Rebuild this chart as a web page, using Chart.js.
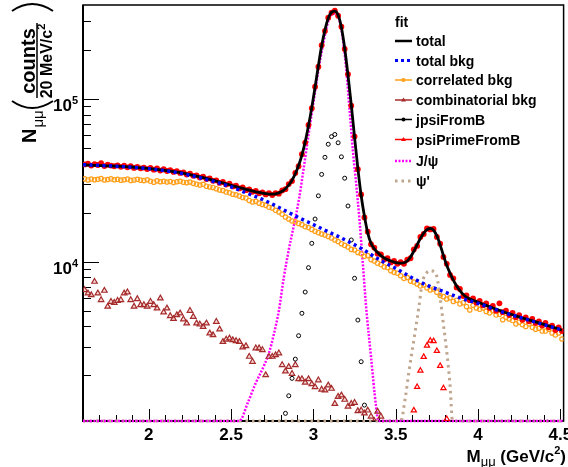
<!DOCTYPE html>
<html>
<head>
<meta charset="utf-8">
<script src="https://cdn.jsdelivr.net/npm/chart.js@4.4.1/dist/chart.umd.min.js"></script>
<style>
  html, body { margin: 0; padding: 0; background: #fff; }
  #wrap { width: 568px; height: 467px; }
</style>
</head>
<body>
<div id="wrap"><canvas id="massChart"></canvas></div>
<script>
// Dimuon invariant mass fit, 20 MeV bins, log y

const binCenters = [
  1.61, 1.63, 1.65, 1.67, 1.69, 1.71, 1.73, 1.75, 1.77, 1.79,
  1.81, 1.83, 1.85, 1.87, 1.89, 1.91, 1.93, 1.95, 1.97, 1.99,
  2.01, 2.03, 2.05, 2.07, 2.09, 2.11, 2.13, 2.15, 2.17, 2.19,
  2.21, 2.23, 2.25, 2.27, 2.29, 2.31, 2.33, 2.35, 2.37, 2.39,
  2.41, 2.43, 2.45, 2.47, 2.49, 2.51, 2.53, 2.55, 2.57, 2.59,
  2.61, 2.63, 2.65, 2.67, 2.69, 2.71, 2.73, 2.75, 2.77, 2.79,
  2.81, 2.83, 2.85, 2.87, 2.89, 2.91, 2.93, 2.95, 2.97, 2.99,
  3.01, 3.03, 3.05, 3.07, 3.09, 3.11, 3.13, 3.15, 3.17, 3.19,
  3.21, 3.23, 3.25, 3.27, 3.29, 3.31, 3.33, 3.35, 3.37, 3.39,
  3.41, 3.43, 3.45, 3.47, 3.49, 3.51, 3.53, 3.55, 3.57, 3.59,
  3.61, 3.63, 3.65, 3.67, 3.69, 3.71, 3.73, 3.75, 3.77, 3.79,
  3.81, 3.83, 3.85, 3.87, 3.89, 3.91, 3.93, 3.95, 3.97, 3.99,
  4.01, 4.03, 4.05, 4.07, 4.09, 4.11, 4.13, 4.15, 4.17, 4.19,
  4.21, 4.23, 4.25, 4.27, 4.29, 4.31, 4.33, 4.35, 4.37, 4.39,
  4.41, 4.43, 4.45, 4.47, 4.49, 4.51
];

// measured counts (red points)
const dataCounts = [
  39600, 40100, 39000, 39800, 39300, 40300, 38700, 39500, 39000, 38600,
  39100, 38300, 38900, 38000, 38600, 37700, 38300, 37500, 37900, 37100,
  37700, 36800, 37400, 36300, 37000, 36100, 36500, 35600, 36000, 35100,
  35400, 34300, 34800, 33700, 33900, 32900, 33300, 32200, 32500, 31400,
  31600, 30500, 30900, 29800, 30200, 29000, 29300, 28200, 28600, 27500,
  27800, 26900, 27200, 26300, 26700, 25900, 26400, 25700, 26400, 26200,
  27400, 27900, 30000, 31300, 35100, 38600, 45800, 54000, 69200, 87800,
  119000, 158000, 214000, 262000, 316000, 339000, 349000, 325000, 278000, 203000,
  142000, 91000, 58800, 37000, 25900, 18700, 15300, 12800, 12200, 11200,
  11100, 10300, 10500, 9900, 10100, 9700, 9950, 9700, 10300, 10500,
  11900, 12500, 14200, 14800, 16000, 15800, 15900, 14200, 12900, 10700,
  9700, 8300, 7900, 6950, 6800, 6150, 6200, 5800, 5950, 5600,
  5750, 5400, 5550, 5200, 5350, 5000, 5550, 4900, 5000, 4700,
  4850, 4550, 4700, 4400, 4550, 4300, 4450, 4200, 4300, 4050,
  4200, 3950, 4050, 3800, 3950, 3750
];

// total fit function sampled at bin centres
const totalFit = [
  39300, 39250, 39200, 39100, 39000, 38950, 38900, 38800, 38750, 38700,
  38600, 38500, 38400, 38300, 38200, 38050, 37900, 37750, 37600, 37450,
  37300, 37100, 36900, 36700, 36500, 36300, 36050, 35800, 35550, 35300,
  35000, 34650, 34300, 33950, 33600, 33250, 32900, 32500, 32100, 31700,
  31300, 30900, 30500, 30100, 29700, 29300, 28900, 28550, 28200, 27850,
  27500, 27200, 26900, 26650, 26400, 26200, 26050, 26000, 26150, 26500,
  27100, 28100, 29600, 31700, 34700, 39000, 45200, 54500, 68500, 88500,
  118000, 160000, 212000, 265000, 313000, 341000, 347000, 328000, 275000, 205000,
  140000, 92000, 58000, 37500, 25500, 19000, 15000, 13000, 12000, 11400,
  10900, 10550, 10300, 10100, 9950, 9850, 9800, 9850, 10100, 10700,
  11600, 12700, 13900, 15000, 15750, 16000, 15600, 14400, 12700, 10900,
  9500, 8500, 7700, 7100, 6650, 6300, 6050, 5900, 5800, 5700,
  5600, 5490, 5390, 5300, 5200, 5110, 5020, 4940, 4860, 4790,
  4720, 4650, 4580, 4510, 4450, 4390, 4330, 4270, 4210, 4150,
  4090, 4030, 3980, 3920, 3860, 3800
];

const correlatedBkg = [
  32300, 31800, 32200, 31900, 32100, 32400, 31800, 32000, 32300, 31900,
  32100, 31700, 31900, 32200, 31600, 31800, 32100, 31700, 31500, 31900,
  31200, 30800, 31400, 31000, 31200, 30900, 31100, 30700, 31000, 31200,
  30800, 30600, 30900, 30300, 29900, 29600, 29900, 29100, 28800, 28600,
  28100, 27600, 27400, 26800, 26500, 26000, 25800, 25300, 24800, 24600,
  23800, 23300, 23500, 22900, 22500, 22200, 21600, 21400, 20700, 20200,
  19600, 18800, 18300, 17800, 17600, 17200, 16900, 16400, 16200, 15800,
  15400, 15100, 14800, 14600, 14300, 14000, 13600, 13300, 12900, 12600,
  12300, 11900, 11800, 11400, 11200, 10800, 10900, 10300, 10100, 9800,
  9600, 9300, 9200, 8800, 8600, 8500, 8200, 7900, 8000, 7600,
  7500, 7300, 7100, 7200, 6900, 6700, 6800, 6500, 6200, 6100,
  5900, 6000, 5700, 5800, 5500, 5600, 5300, 5050, 5400, 5200,
  5100, 5200, 4950, 4850, 5000, 4700, 4750, 4400, 4550, 4450,
  4350, 4150, 4250, 4100, 4000, 4150, 3950, 3850, 3900, 3750,
  3750, 3850, 3650, 3550, 3650, 3350
];

// first 91 bins, the rest falls below the axis
const combinatorialBkg = [
  6700, 6390, 6240, 7540, 6390, 5820, 6640, 5300, 5680, 5600,
  5760, 5820, 6390, 6490, 5820, 5300, 5900, 5420, 5420, 5300,
  5680, 5420, 5170, 5960, 4890, 5170, 4640, 4460, 4700, 4820,
  4430, 4180, 5000, 4590, 4180, 4120, 3980, 4180, 3630, 3540,
  4280, 3840, 3220, 3330, 3380, 3300, 3260, 3220, 2980, 3030,
  2610, 2430, 2940, 2940, 2870, 2010, 2610, 2610, 2670, 2740,
  2320, 2120, 2260, 2050, 2320, 1900, 1900, 1810, 1900, 1770,
  1700, 1870, 1640, 1620, 1740, 1660, 1340, 1480, 1510, 1420,
  1290, 1340, 1360, 1210, 1220, 1170, 1220, 1120, 1050, 1200,
  1120
];

const totalBkgX = [1.60, 1.80, 2.00, 2.20, 2.40, 2.50, 2.60, 2.70, 2.80, 2.90, 3.00, 3.10, 3.20,
  3.30, 3.40, 3.50, 3.60, 3.70, 3.80, 3.90, 4.00, 4.10, 4.20, 4.30, 4.40, 4.52];
const totalBkgY = [39500, 38600, 37300, 34800, 31000, 28800, 26300, 23900, 21300, 18900, 16900, 15100, 13500,
  11900, 10300, 9100, 7950, 7100, 6500, 5950, 5550, 5100, 4720, 4400, 4100, 3780];

const jpsiX = [1.60, 2.55, 2.60, 2.65, 2.70, 2.73, 2.76, 2.79, 2.82, 2.85, 2.88, 2.91, 2.94, 2.97,
  3.00, 3.03, 3.06, 3.09, 3.12, 3.14, 3.16, 3.18, 3.20, 3.22, 3.24, 3.26, 3.28, 3.30, 3.32,
  3.35, 3.38, 3.395, 4.52];
const jpsiY = [1050, 1050, 1350, 1800, 2300, 2750, 3600, 5000, 8000, 11800, 16500, 23500, 37000, 60000,
  95000, 150000, 220000, 300000, 335000, 330000, 300000, 230000, 150000, 85000, 48000, 30000, 18000, 9800, 5300,
  2600, 1300, 1050, 1050];

const psiPrimeX = [1.60, 3.53, 3.56, 3.58, 3.61, 3.64, 3.66, 3.69, 3.71, 3.73, 3.75, 3.77, 3.79, 3.81, 3.83, 3.845, 4.52];
const psiPrimeY = [1050, 1050, 1500, 2100, 3300, 5200, 7300, 8600, 8800, 8700, 8100, 6000, 4100, 2800, 1750, 1050, 1050];

const jpsiFromBX = [2.83, 2.85, 2.87, 2.89, 2.91, 2.93, 2.95, 2.97, 2.99, 3.01, 3.03, 3.05, 3.07,
  3.09, 3.11, 3.13, 3.15, 3.17, 3.19, 3.21, 3.23, 3.25, 3.27, 3.29, 3.31];
const jpsiFromBY = [1170, 1500, 1920, 2520, 3510, 4820, 6510, 9190, 12970, 18300, 25400, 34400, 43800,
  52700, 58700, 60500, 53800, 44100, 32600, 22000, 13600, 7910, 4380, 2430, 1315];

const psiPrimeFromBX = [3.61, 3.63, 3.65, 3.67, 3.69, 3.71, 3.73, 3.75, 3.77, 3.79, 3.81];
const psiPrimeFromBY = [1220, 1700, 2140, 2600, 3050, 3270, 3250, 2830, 2290, 1670, 1080];

const xTickValues = [2, 2.5, 3, 3.5, 4, 4.5];
const xTickLabels = ['2', '2.5', '3', '3.5', '4', '4.5'];
const xMinorValues = [1.7, 1.8, 1.9, 2.1, 2.2, 2.3, 2.4, 2.6, 2.7, 2.8, 2.9, 3.1, 3.2, 3.3, 3.4,
  3.6, 3.7, 3.8, 3.9, 4.1, 4.2, 4.3, 4.4];
const yTickValues = [1e4, 1e5];
const yTickExponents = ['4', '5'];
const yMinorValues = [2e3, 3e3, 4e3, 5e3, 6e3, 7e3, 8e3, 9e3, 2e4, 3e4, 4e4, 5e4, 6e4, 7e4, 8e4, 9e4, 2e5, 3e5];

const ORANGE = '#ff9f1a';
const BROWN = '#a52a2a';
const MAGENTA = '#ff00ff';
const TAN = '#bfa68f';
const FONT = '"Liberation Sans", Arial, sans-serif';

function pts(xs, ys) {
    return ys.map((y, i) => ({ x: xs[i], y: y }));
}

const legendEntries = [
    { label: 'total', color: '#000', width: 2.5 },
    { label: 'total bkg', color: '#0000ff', width: 3, dash: [3, 3] },
    { label: 'correlated bkg', color: ORANGE, marker: 'circle' },
    { label: 'combinatorial bkg', color: BROWN, marker: 'triangle' },
    { label: 'jpsiFromB', color: '#000', marker: 'circle' },
    { label: 'psiPrimeFromB', color: '#ff0000', marker: 'triangle' },
    { label: 'J/\u03c8', color: MAGENTA, width: 2.5, dash: [2, 1.5] },
    { label: '\u03c8\'', color: TAN, width: 3, dash: [2.5, 4] }
];

function text(ctx, str, x, y, size, bold, align) {
    ctx.font = (bold ? 'bold ' : '') + size + 'px ' + FONT;
    ctx.textAlign = align || 'left';
    ctx.fillText(str, x, y);
    return ctx.measureText(str).width;
}

// ROOT style frame, ticks, labels and legend
const rootFrame = {
    id: 'rootFrame',
    beforeDatasetsDraw(chart) {
        const ctx = chart.ctx;
        const a = chart.chartArea;
        const xs = chart.scales.x, ys = chart.scales.y;
        ctx.save();
        ctx.strokeStyle = '#000';
        ctx.lineWidth = 1;
        ctx.beginPath();
        xTickValues.forEach(v => {
            const p = Math.round(xs.getPixelForValue(v)) + 0.5;
            ctx.moveTo(p, a.bottom); ctx.lineTo(p, a.bottom - 12);
        });
        xMinorValues.forEach(v => {
            const p = Math.round(xs.getPixelForValue(v)) + 0.5;
            ctx.moveTo(p, a.bottom); ctx.lineTo(p, a.bottom - 6);
        });
        yTickValues.forEach(v => {
            const p = Math.round(ys.getPixelForValue(v)) + 0.5;
            ctx.moveTo(a.left, p); ctx.lineTo(a.left + 16, p);
        });
        yMinorValues.forEach(v => {
            const p = Math.round(ys.getPixelForValue(v)) + 0.5;
            ctx.moveTo(a.left, p); ctx.lineTo(a.left + 8, p);
        });
        ctx.stroke();
        ctx.lineWidth = 1.5;
        ctx.strokeRect(a.left, a.top, a.right - a.left, a.bottom - a.top);
        ctx.lineWidth = 2;
        ctx.beginPath();
        ctx.moveTo(a.left, a.top); ctx.lineTo(a.left, a.bottom); ctx.lineTo(a.right, a.bottom);
        ctx.stroke();
        ctx.restore();
    },
    afterDraw(chart) {
        const ctx = chart.ctx;
        const xs = chart.scales.x, ys = chart.scales.y;
        ctx.save();
        ctx.fillStyle = '#000';
        ctx.textBaseline = 'alphabetic';

        // x tick labels
        xTickValues.forEach((v, i) => {
            text(ctx, xTickLabels[i], xs.getPixelForValue(v), 440, 17, true, 'center');
        });
        // y tick labels 10^n
        yTickValues.forEach((v, i) => {
            const p = ys.getPixelForValue(v);
            const w = text(ctx, '10', 53, p + 12, 17, true);
            text(ctx, yTickExponents[i], 53 + w, p + 5, 11, true);
        });

        // x title: M_mumu (GeV/c^2)
        ctx.font = 'bold 17px ' + FONT;
        const wM = ctx.measureText('M').width;
        const wP = ctx.measureText(' (GeV/c').width;
        const wC = ctx.measureText(')').width;
        ctx.font = '13px ' + FONT;
        const wMu = ctx.measureText('\u03bc\u03bc').width;
        ctx.font = 'bold 11px ' + FONT;
        const w2 = ctx.measureText('2').width;
        let x0 = 566 - (wM + wMu + wP + w2 + wC);
        text(ctx, 'M', x0, 462, 17, true); x0 += wM;
        text(ctx, '\u03bc\u03bc', x0, 466, 13, false); x0 += wMu;
        text(ctx, ' (GeV/c', x0, 462, 17, true); x0 += wP;
        text(ctx, '2', x0, 454, 11, true); x0 += w2;
        text(ctx, ')', x0, 462, 17, true);

        // y title, rotated: N_mumu ( counts / 20 MeV/c^2 )
        ctx.save();
        ctx.translate(36, 143);
        ctx.rotate(-Math.PI / 2);
        const wN = text(ctx, 'N', 0, 0, 20, true);
        text(ctx, '\u03bc\u03bc', wN + 1, 7, 15, false);
        ctx.restore();

        ctx.save();
        ctx.translate(34.5, 61);
        ctx.rotate(-Math.PI / 2);
        text(ctx, 'counts', 0, 0, 20, true, 'center');
        ctx.font = 'bold 16px ' + FONT;
        const wDen = ctx.measureText('20 MeV/c').width;
        ctx.font = 'bold 11px ' + FONT;
        const wSup = ctx.measureText('2').width;
        const d0 = -(wDen + wSup) / 2;
        text(ctx, '20 MeV/c', d0, 17, 16, true);
        text(ctx, '2', d0 + wDen, 10, 11, true);
        ctx.restore();

        ctx.strokeStyle = '#000';
        ctx.lineWidth = 1.5;
        ctx.beginPath();
        ctx.moveTo(37, 98); ctx.lineTo(37, 23);
        ctx.stroke();
        ctx.lineWidth = 2;
        ctx.beginPath();
        ctx.moveTo(12, 101); ctx.quadraticCurveTo(32, 115, 53, 101);
        ctx.moveTo(12, 11); ctx.quadraticCurveTo(32, -3, 53, 11);
        ctx.stroke();

        // legend
        text(ctx, 'fit', 395, 27, 14, true);
        const rowY = [41, 60.5, 80, 100, 119.5, 139.5, 161, 181];
        legendEntries.forEach((e, i) => {
            const y = rowY[i];
            ctx.save();
            ctx.strokeStyle = e.color;
            ctx.fillStyle = e.color;
            ctx.lineWidth = e.marker ? 1.5 : e.width;
            ctx.setLineDash(e.dash || []);
            ctx.beginPath();
            ctx.moveTo(395, y); ctx.lineTo(412, y);
            ctx.stroke();
            ctx.setLineDash([]);
            if (e.marker === 'circle') {
                ctx.beginPath(); ctx.arc(403.5, y, 2, 0, Math.PI * 2); ctx.fill();
            } else if (e.marker === 'triangle') {
                ctx.beginPath();
                ctx.moveTo(403.5, y - 2.5); ctx.lineTo(406, y + 1.5); ctx.lineTo(401, y + 1.5);
                ctx.closePath(); ctx.fill();
            }
            ctx.restore();
            text(ctx, e.label, 416, y + 5, 14, true);
        });
        ctx.restore();
    }
};

const markerBase = { showLine: false, pointHoverRadius: 0 };
const lineBase = { pointRadius: 0, pointHoverRadius: 0, fill: false, cubicInterpolationMode: 'monotone' };

new Chart(document.getElementById('massChart'), {
    type: 'line',
    data: {
        datasets: [
            Object.assign({}, lineBase, {
                label: 'total bkg', data: pts(totalBkgX, totalBkgY), order: 0,
                borderColor: '#0000ff', borderWidth: 3.5, borderDash: [3, 3.5]
            }),
            Object.assign({}, lineBase, {
                label: 'total', data: pts(binCenters, totalFit), order: 1,
                borderColor: '#000', borderWidth: 2.8
            }),
            Object.assign({}, markerBase, {
                label: 'data', data: pts(binCenters, dataCounts), order: 2,
                pointStyle: 'circle', pointRadius: 2.9,
                pointBackgroundColor: '#ff0000', pointBorderColor: '#ff0000', pointBorderWidth: 0
            }),
            Object.assign({}, markerBase, {
                label: 'jpsiFromB', data: pts(jpsiFromBX, jpsiFromBY), order: 3,
                pointStyle: 'circle', pointRadius: 2,
                pointBackgroundColor: 'rgba(0,0,0,0)', pointBorderColor: '#000', pointBorderWidth: 1
            }),
            Object.assign({}, markerBase, {
                label: 'psiPrimeFromB', data: pts(psiPrimeFromBX, psiPrimeFromBY), order: 4,
                pointStyle: 'triangle', pointRadius: 3,
                pointBackgroundColor: 'rgba(0,0,0,0)', pointBorderColor: '#ff0000', pointBorderWidth: 1.2
            }),
            Object.assign({}, markerBase, {
                label: 'combinatorial bkg', data: pts(binCenters, combinatorialBkg), order: 5,
                pointStyle: 'triangle', pointRadius: 3.2,
                pointBackgroundColor: 'rgba(230,150,150,0.35)', pointBorderColor: BROWN, pointBorderWidth: 1.2
            }),
            Object.assign({}, markerBase, {
                label: 'correlated bkg', data: pts(binCenters, correlatedBkg), order: 6,
                pointStyle: 'circle', pointRadius: 2.2,
                pointBackgroundColor: 'rgba(0,0,0,0)', pointBorderColor: ORANGE, pointBorderWidth: 1.2
            }),
            Object.assign({}, lineBase, {
                label: 'J/psi', data: pts(jpsiX, jpsiY), order: 7, clip: 3,
                borderColor: MAGENTA, borderWidth: 2.5, borderDash: [2, 1.5]
            }),
            Object.assign({}, lineBase, {
                label: 'psi prime', data: pts(psiPrimeX, psiPrimeY), order: 8, clip: 3,
                borderColor: TAN, borderWidth: 3, borderDash: [2.5, 4]
            })
        ]
    },
    options: {
        responsive: true,
        maintainAspectRatio: false,
        devicePixelRatio: 1,
        animation: false,
        events: [],
        layout: { padding: { left: 83, right: 3, top: 5, bottom: 46 } },
        plugins: {
            legend: { display: false },
            tooltip: { enabled: false }
        },
        scales: {
            x: { type: 'linear', min: 1.6, max: 4.52, display: false },
            y: { type: 'logarithmic', min: 1050, max: 378000, display: false }
        }
    },
    plugins: [rootFrame]
});
</script>
</body>
</html>
